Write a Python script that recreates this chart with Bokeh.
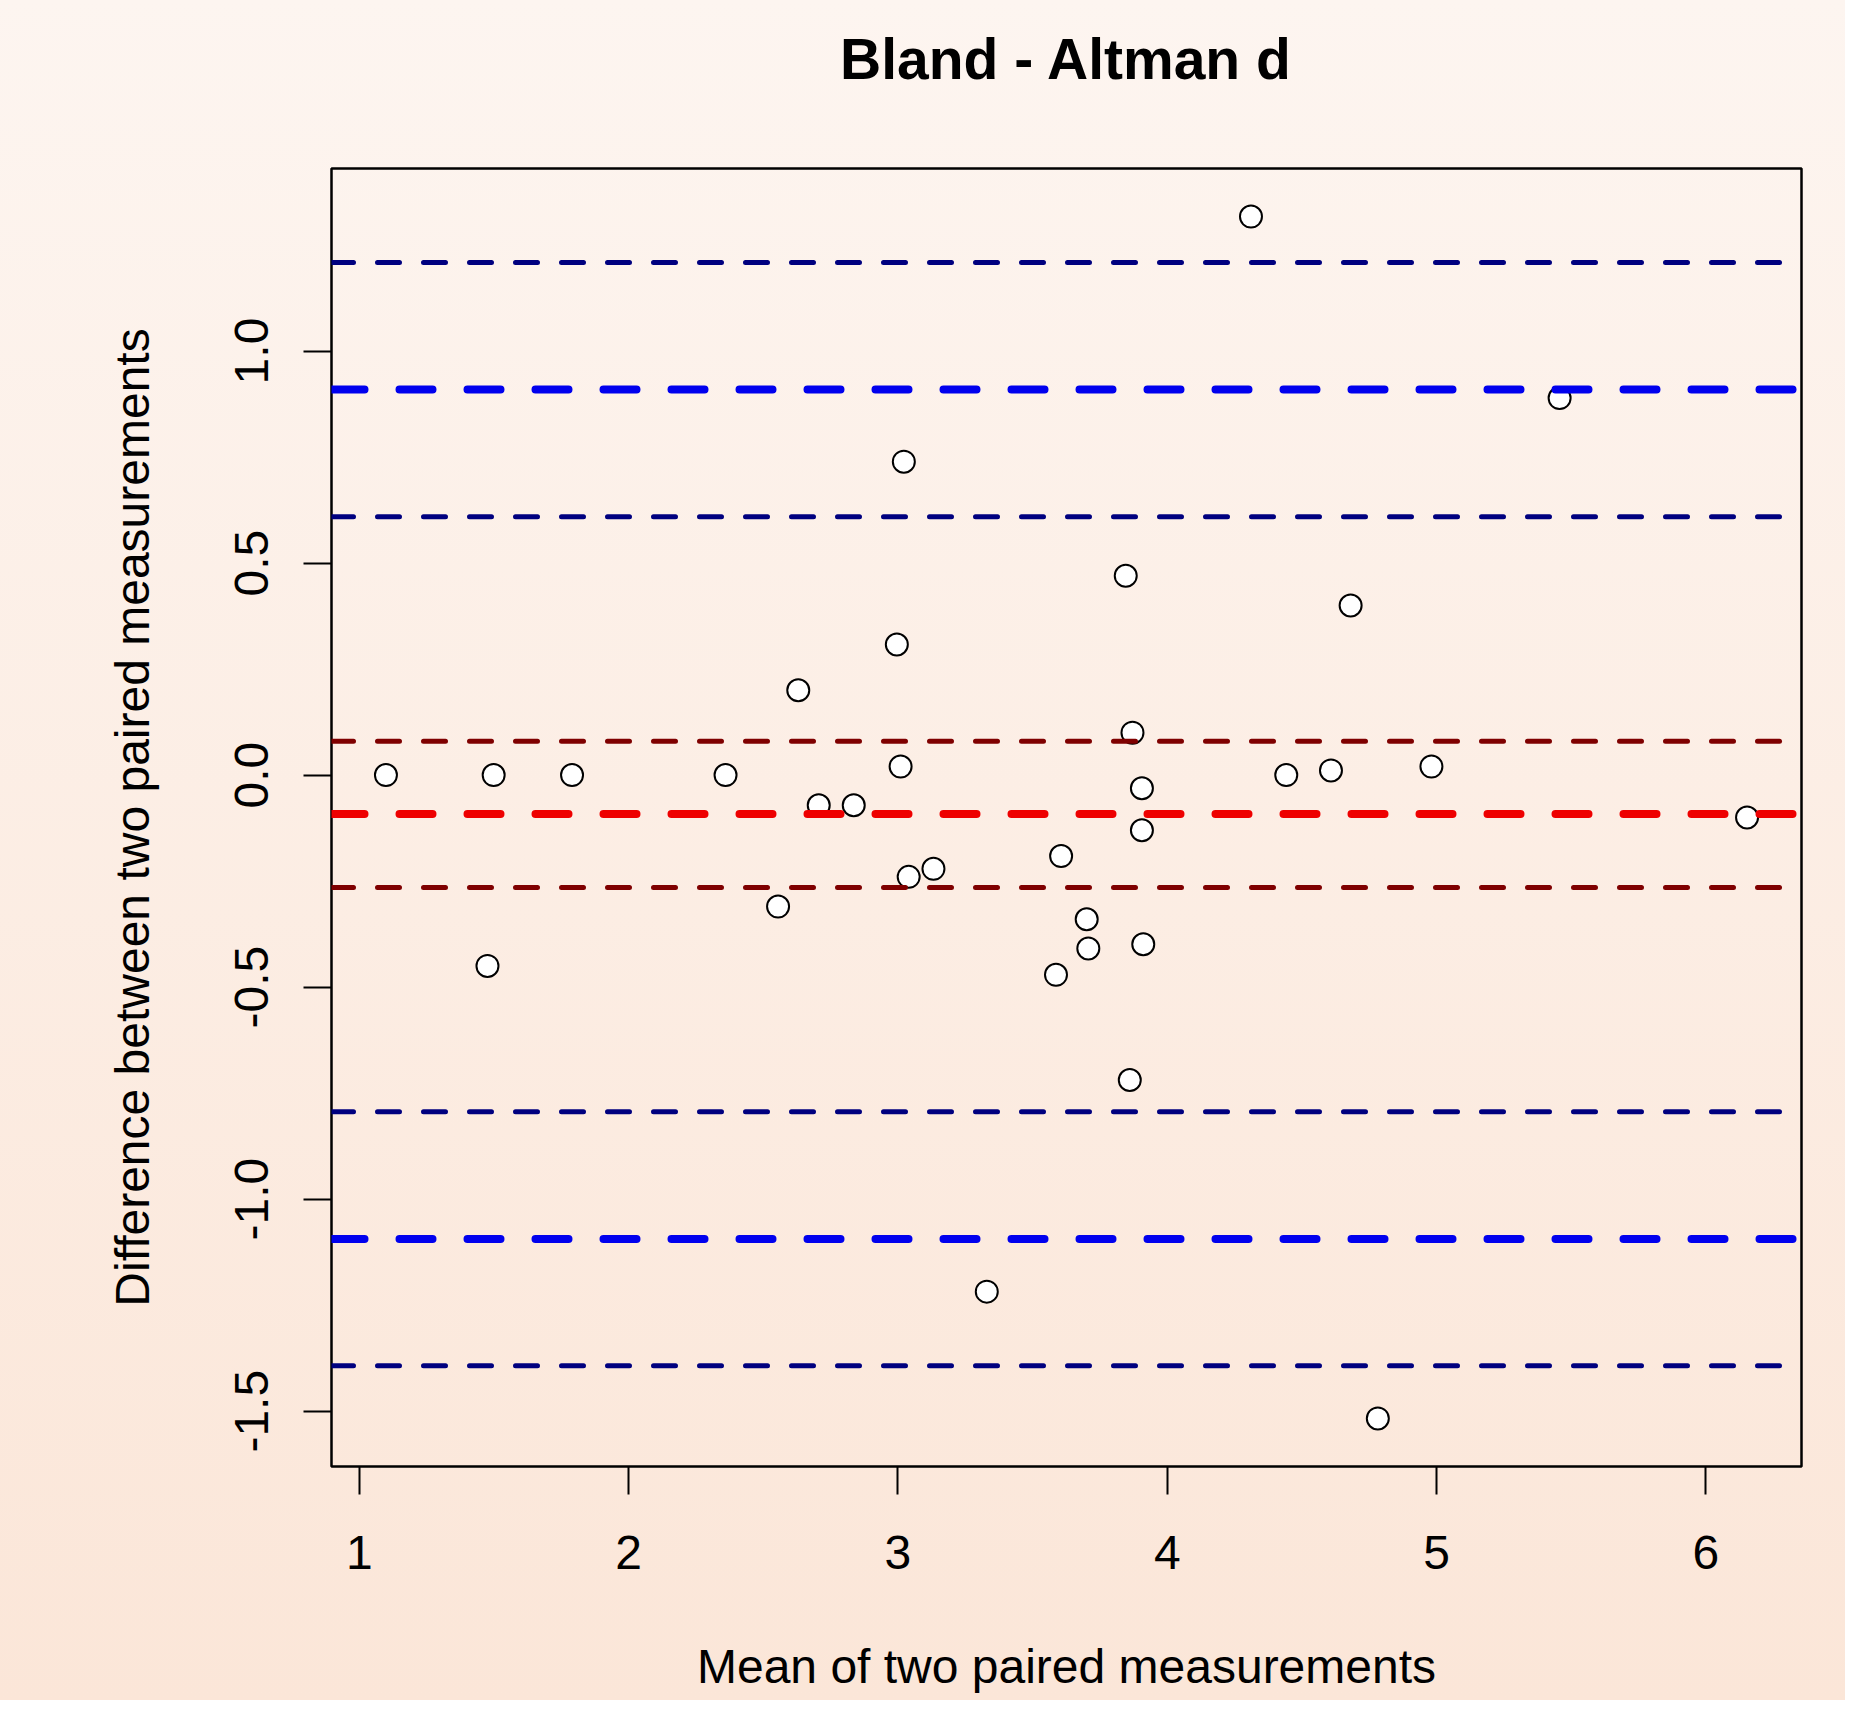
from bokeh.plotting import figure
from bokeh.models import Span, FixedTicker, Range1d, LinearAxis
from bokeh.embed import file_html
from bokeh.resources import INLINE

# ---- data ----
mean_x = [1.099, 1.499, 1.790, 2.360, 1.476, 2.555, 2.630, 2.706, 2.836, 2.996,
          3.022, 3.010, 3.040, 3.132, 3.330, 3.587, 3.606, 3.701, 3.707, 3.846,
          3.871, 3.861, 3.906, 3.906, 3.911, 4.311, 4.442, 4.608, 4.681, 4.782,
          4.981, 5.457, 6.153]
diff_y = [0.000, 0.000, 0.000, 0.000, -0.450, -0.310, 0.200, -0.071, -0.071, 0.308,
          0.739, 0.020, -0.240, -0.221, -1.218, -0.471, -0.191, -0.340, -0.409, 0.470,
          0.100, -0.719, -0.031, -0.130, -0.399, 1.317, 0.000, 0.011, 0.400, -1.517,
          0.020, 0.889, -0.100]

bias = -0.092
limits_of_agreement = [0.909, -1.094]
bias_ci = [0.080, -0.265]
loa_ci = [1.209, 0.609, -0.794, -1.393]

x_ticks = [1, 2, 3, 4, 5, 6]
x_tick_labels = ["1", "2", "3", "4", "5", "6"]
y_ticks = [-1.5, -1.0, -0.5, 0.0, 0.5, 1.0]
y_tick_labels = ["-1.5", "-1.0", "-0.5", "0.0", "0.5", "1.0"]

TITLE = "Bland - Altman d"
FONT = "Liberation Sans"

# R-style 4% range extension
xmin, xmax = min(mean_x), max(mean_x)
ymin, ymax = min(diff_y), max(diff_y)
xp = 0.04 * (xmax - xmin)
yp = 0.04 * (ymax - ymin)

p = figure(width=1845, height=1700, output_backend="svg", toolbar_location=None,
           title=TITLE,
           x_range=Range1d(xmin - xp, xmax + xp), y_range=Range1d(ymin - yp, ymax + yp),
           min_border_left=331, min_border_right=44, min_border_top=168, min_border_bottom=234)

p.background_fill_color = None
p.border_fill_color = None
p.styles = {"background": "linear-gradient(#FDF5F0, #FBE6D8)"}
p.outline_line_color = "black"
p.outline_line_width = 2.5
p.grid.visible = False

p.title.align = "center"
p.title.text_font = FONT
p.title.text_font_size = "57px"
p.title.text_font_style = "bold"
p.title.text_color = "black"
p.title.standoff = 0

xa = p.below[0]
ya = p.left[0]

# invisible spacer between the frame and the title (R leaves a wide top margin)
spacer = LinearAxis(ticker=FixedTicker(ticks=x_ticks[:1], minor_ticks=[]), axis_line_color=None,
                    major_tick_line_color=None, minor_tick_line_color=None,
                    major_tick_in=0, major_tick_out=78, minor_tick_in=0, minor_tick_out=0,
                    major_label_text_color=None, major_label_text_font_size="1px",
                    major_label_standoff=0)
p.add_layout(spacer, "above")

# axes
xa.ticker = FixedTicker(ticks=x_ticks)
xa.major_label_overrides = {t: l for t, l in zip(x_ticks, x_tick_labels)}
ya.ticker = FixedTicker(ticks=y_ticks)
ya.major_label_overrides = {t: l for t, l in zip(y_ticks, y_tick_labels)}
ya.major_label_orientation = "vertical"
for ax in (xa, ya):
    ax.axis_line_color = None
    ax.minor_tick_line_color = None
    ax.major_tick_in = 0
    ax.major_tick_out = 28
    ax.major_tick_line_color = "black"
    ax.major_tick_line_width = 2
    ax.major_label_text_font = FONT
    ax.major_label_text_font_size = "48px"
    ax.major_label_text_color = "black"
    ax.axis_label_text_font = FONT
    ax.axis_label_text_font_size = "48px"
    ax.axis_label_text_font_style = "normal"
    ax.axis_label_text_color = "black"
xa.axis_label = "Mean of two paired measurements"
ya.axis_label = "Difference between two paired measurements"
xa.major_label_standoff = 41
xa.axis_label_standoff = 68
ya.major_label_standoff = 35
ya.axis_label_standoff = 74

# points
p.scatter(mean_x, diff_y, size=22, marker="circle", fill_color="white",
          line_color="black", line_width=2)

# reference lines (drawn over the points)
def hline(y, color, width, dash):
    p.add_layout(Span(location=y, dimension="width", line_color=color,
                      line_width=width, line_dash=dash, line_cap="round"))

for y in loa_ci:
    hline(y, "#00007F", 5, "22 24")
for y in bias_ci:
    hline(y, "#7F0000", 5, "22 24")
for y in limits_of_agreement:
    hline(y, "#0000EE", 8, "33 35")
hline(bias, "#EE0000", 8, "33 35")

html = file_html(p, INLINE)
html = html.replace("<body>", '<body style="background: linear-gradient(#FDF5F0, #FBE6D8); margin: 8px;">', 1)
open("out.html", "w").write(html)
